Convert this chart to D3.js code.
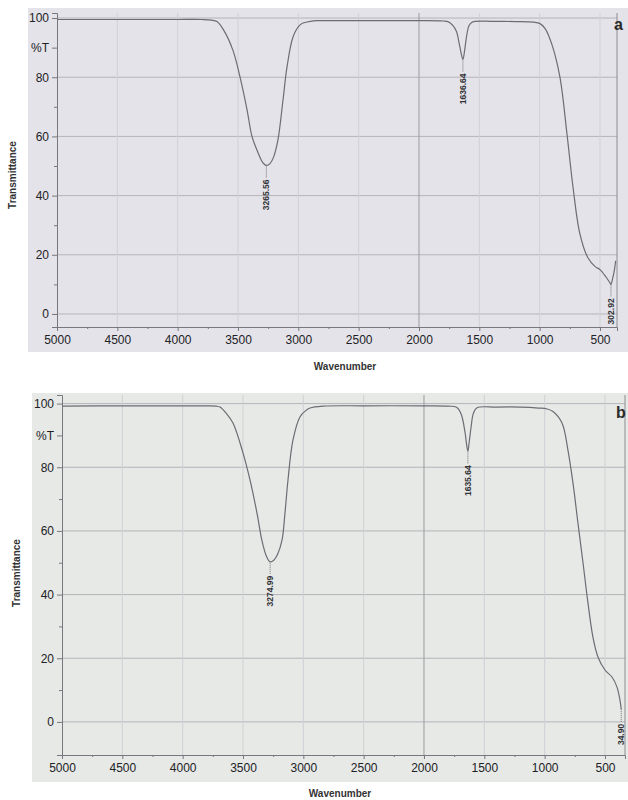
<!DOCTYPE html>
<html>
<head>
<meta charset="utf-8">
<script src="https://cdn.jsdelivr.net/npm/d3@7"></script>
<style>
  body { margin: 0; background: #fff; }
  svg { display: block; font-family: "Liberation Sans", Arial, sans-serif; }
</style>
</head>
<body>
<div id="chart"></div>
<script>
// ---- data ----
const xTicks = [5000, 4500, 4000, 3500, 3000, 2500, 2000, 1500, 1000, 500];
const yTicks = [0, 20, 40, 60, 80, 100];

// spectrum (a)
const wnA = [5000, 4500, 4000, 3800, 3720, 3674, 3620, 3541, 3483, 3425,
  3384, 3334, 3300, 3265, 3235, 3205, 3169, 3127, 3094, 3044,
  2990, 2961, 2900, 2845, 2500, 2000, 1800, 1760, 1720, 1690,
  1665, 1650, 1636, 1622, 1605, 1585, 1560, 1530, 1400, 1200,
  1050, 1000, 956, 898, 832, 774, 724, 666, 600, 540,
  500, 450, 417, 409, 395, 380, 370];
const tA = [99.5, 99.5, 99.5, 99.5, 99.3, 98.8, 96, 89, 80, 69,
  60, 54.5, 51.5, 50.2, 50.8, 53, 58.8, 72.3, 83.4, 93.6,
  97.5, 98.3, 98.9, 99.1, 99.1, 99.1, 99.0, 98.8, 97.5, 95.5,
  91, 88, 86, 89, 94, 97.5, 98.6, 98.9, 98.9, 98.8,
  98.6, 98.2, 96.5, 91, 80, 61, 43, 27, 19, 16,
  15, 12.5, 10.5, 10, 12, 15, 18];
const peakWnA = [3265, 1636, 409];
const peakLabelA = ["3265.56", "1636.64", "302.92"];

// spectrum (b)
const wnB = [5000, 4500, 4000, 3800, 3720, 3691, 3640, 3583, 3500, 3442,
  3384, 3343, 3305, 3275, 3245, 3215, 3177, 3152, 3127, 3086,
  3028, 2980, 2945, 2837, 2500, 2000, 1800, 1727, 1690, 1660,
  1648, 1636, 1625, 1610, 1590, 1560, 1400, 1200, 1050, 980,
  931, 856, 807, 765, 724, 682, 641, 600, 558, 500,
  442, 401, 376, 365];
const tB = [99.2, 99.3, 99.3, 99.3, 99.2, 98.9, 97, 93.9, 84.5, 76,
  65.6, 57, 52, 50.3, 50.8, 52.5, 57, 65.6, 76, 88.5,
  95.8, 97.8, 98.6, 99.2, 99.3, 99.3, 99.2, 98.8, 96.5, 91,
  87.5, 85, 88, 92.5, 97, 98.7, 98.9, 98.9, 98.6, 98.3,
  97.5, 93.9, 85.4, 75, 62.5, 50, 37.4, 26.7, 20.4, 16.3,
  14.1, 11, 6.9, 3.8];
const peakWnB = [3275, 1636, 365];
const peakLabelB = ["3274.99", "1635.64", "34.90"];

const W = 628, H = 800;
const svg = d3.select("#chart").append("svg")
  .attr("width", W).attr("height", H);

// one photographed spectrum panel
function drawPanel(p, wn, tr, peakWn, peakLabel) {
  const x = d3.scaleLinear().domain([5000, p.wnEnd]).range([p.left, p.right]);
  const y = d3.scaleLinear().domain([p.tLo, p.tHi]).range([p.bottom, p.top]);
  const g = svg.append("g");

  // paper background
  g.append("rect")
    .attr("x", p.bg[0]).attr("y", p.bg[1])
    .attr("width", p.bg[2] - p.bg[0]).attr("height", p.bg[3] - p.bg[1])
    .attr("fill", p.fill);

  // grid
  g.append("g").selectAll("line").data(yTicks).join("line")
    .attr("x1", p.left).attr("x2", p.right)
    .attr("y1", (d) => y(d)).attr("y2", (d) => y(d))
    .attr("stroke", "#b4b4ba").attr("stroke-width", 1);
  g.append("g").selectAll("line").data(xTicks.slice(1)).join("line")
    .attr("x1", (d) => x(d)).attr("x2", (d) => x(d))
    .attr("y1", p.top).attr("y2", p.bottom)
    .attr("stroke", (d) => (d === 2000 ? "#9a9aa0" : "#d0d0d6"))
    .attr("stroke-width", 1);

  // right frame
  g.append("line")
    .attr("x1", p.right).attr("x2", p.right)
    .attr("y1", p.top).attr("y2", p.bottom)
    .attr("stroke", "#8c8c92");

  // axes
  const yAxis = d3.axisLeft(y)
    .tickValues([0, 20, 40, 60, 80, 90, 100])
    .tickFormat((d) => (d === 90 ? "%T" : d))
    .tickSize(5).tickPadding(3);
  const ya = g.append("g").attr("transform", `translate(${p.left},0)`).call(yAxis);
  g.append("g").attr("transform", `translate(${p.left},0)`)
    .call(d3.axisLeft(y).tickValues([10, 30, 50, 70]).tickFormat("").tickSize(3))
    .select(".domain").remove();

  const xAxis = d3.axisBottom(x).tickValues(xTicks).tickFormat(d3.format("d"))
    .tickSize(4).tickPadding(4);
  const xa = g.append("g").attr("transform", `translate(0,${p.bottom})`).call(xAxis);
  g.append("g").attr("transform", `translate(0,${p.bottom})`)
    .call(d3.axisBottom(x).tickValues([4750, 4250, 3750, 3250, 2750, 2250, 1750, 1250, 750])
      .tickFormat("").tickSize(2))
    .select(".domain").remove();

  g.selectAll(".domain").attr("stroke", "#77777d");
  g.selectAll(".tick line").attr("stroke", "#77777d");
  [ya, xa].forEach((a) => a.selectAll("text")
    .attr("font-size", 12).attr("fill", "#222226").attr("font-family", null));

  // spectrum trace
  const pts = wn.map((w, i) => [w, tr[i]]);
  g.append("path")
    .datum(pts)
    .attr("fill", "none")
    .attr("stroke", "#6c6c74")
    .attr("stroke-width", 1.2)
    .attr("d", d3.line().x((d) => x(d[0])).y((d) => y(d[1]))
      .curve(d3.curveCatmullRom.alpha(0.5)));

  // peak picks
  peakWn.forEach((w, i) => {
    const j = d3.minIndex(wn, (v) => Math.abs(v - w));
    const px = x(w), py = y(tr[j]);
    g.append("line")
      .attr("x1", px).attr("x2", px)
      .attr("y1", py + 1).attr("y2", py + p.gap)
      .attr("stroke", "#55555c").attr("stroke-width", 0.8)
      .attr("stroke-dasharray", "1,1");
    g.append("text")
      .attr("transform", `translate(${px},${py + p.gap + 1}) rotate(-90)`)
      .attr("text-anchor", "end")
      .attr("dy", "0.35em")
      .attr("font-size", 8.5)
      .attr("font-weight", "bold")
      .attr("fill", "#333338")
      .text(peakLabel[i]);
  });

  // axis titles
  svg.append("text")
    .attr("transform", `translate(${p.yTitle[0]},${p.yTitle[1]}) rotate(-90)`)
    .attr("text-anchor", "middle")
    .attr("font-size", 10).attr("font-weight", "bold")
    .attr("fill", "#333")
    .text("Transmittance");
  svg.append("text")
    .attr("x", p.xTitle[0]).attr("y", p.xTitle[1])
    .attr("text-anchor", "middle")
    .attr("font-size", 10).attr("font-weight", "bold")
    .attr("fill", "#333")
    .text("Wavenumber");

  // panel letter
  svg.append("text")
    .attr("x", p.tag[0]).attr("y", p.tag[1])
    .attr("font-size", 16).attr("font-weight", "bold")
    .attr("fill", "#2a2a2a")
    .text(p.tag[2]);
}

drawPanel({
  left: 57, right: 617, wnEnd: 359,
  top: 13, bottom: 327, tLo: -4.4, tHi: 101.7,
  bg: [28, 8, 628, 352], fill: "#e4e3e9",
  gap: 13,
  yTitle: [16, 175], xTitle: [345, 370], tag: [614, 30, "a"],
}, wnA, tA, peakWnA, peakLabelA);

drawPanel({
  left: 62, right: 625, wnEnd: 334,
  top: 395, bottom: 755, tLo: -10.4, tHi: 102.7,
  bg: [32, 393, 628, 782], fill: "#e6e9e6",
  gap: 13,
  yTitle: [20, 573], xTitle: [340, 797], tag: [616, 418, "b"],
}, wnB, tB, peakWnB, peakLabelB);
</script>
</body>
</html>
